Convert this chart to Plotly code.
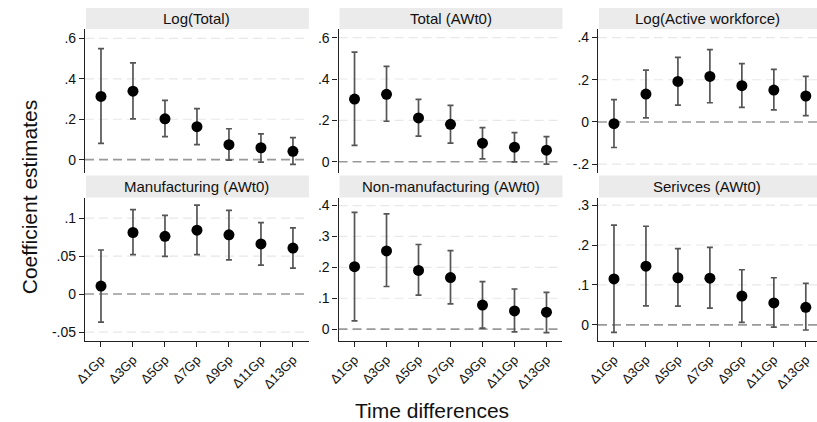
import plotly.graph_objects as go

W, H = 817, 422

categories = ["Δ1Gp", "Δ3Gp", "Δ5Gp", "Δ7Gp", "Δ9Gp", "Δ11Gp", "Δ13Gp"]

titles = ["Log(Total)", "Total (AWt0)", "Log(Active workforce)",
          "Manufacturing (AWt0)", "Non-manufacturing (AWt0)", "Serivces (AWt0)"]

log_total_coef = [0.313, 0.339, 0.202, 0.163, 0.074, 0.059, 0.041]
log_total_lo = [0.081, 0.202, 0.114, 0.074, -0.002, -0.012, -0.023]
log_total_hi = [0.550, 0.479, 0.293, 0.253, 0.153, 0.128, 0.109]

total_coef = [0.303, 0.326, 0.212, 0.181, 0.090, 0.071, 0.056]
total_lo = [0.079, 0.196, 0.124, 0.090, 0.014, 0.000, -0.011]
total_hi = [0.530, 0.461, 0.302, 0.273, 0.165, 0.141, 0.122]

log_aw_coef = [-0.008, 0.132, 0.192, 0.216, 0.172, 0.151, 0.123]
log_aw_lo = [-0.121, 0.019, 0.080, 0.091, 0.069, 0.057, 0.030]
log_aw_hi = [0.106, 0.246, 0.306, 0.343, 0.277, 0.249, 0.216]

manuf_coef = [0.0105, 0.081, 0.076, 0.084, 0.078, 0.066, 0.0605]
manuf_lo = [-0.037, 0.052, 0.0496, 0.052, 0.045, 0.038, 0.034]
manuf_hi = [0.058, 0.111, 0.1035, 0.117, 0.110, 0.094, 0.087]

nonmanuf_coef = [0.202, 0.253, 0.190, 0.167, 0.078, 0.059, 0.055]
nonmanuf_lo = [0.027, 0.138, 0.110, 0.082, 0.003, -0.009, -0.011]
nonmanuf_hi = [0.378, 0.373, 0.274, 0.254, 0.154, 0.130, 0.119]

serv_coef = [0.115, 0.147, 0.118, 0.117, 0.072, 0.055, 0.044]
serv_lo = [-0.019, 0.0475, 0.047, 0.042, 0.006, -0.006, -0.013]
serv_hi = [0.250, 0.247, 0.191, 0.194, 0.138, 0.118, 0.104]

series = [
    (log_total_coef, log_total_lo, log_total_hi),
    (total_coef, total_lo, total_hi),
    (log_aw_coef, log_aw_lo, log_aw_hi),
    (manuf_coef, manuf_lo, manuf_hi),
    (nonmanuf_coef, nonmanuf_lo, nonmanuf_hi),
    (serv_coef, serv_lo, serv_hi),
]

ytickvals = [[0, 0.2, 0.4, 0.6], [0, 0.2, 0.4, 0.6], [-0.2, 0, 0.2, 0.4],
             [-0.05, 0, 0.05, 0.1], [0, 0.1, 0.2, 0.3, 0.4], [0, 0.1, 0.2, 0.3]]
yticktext = [["0", ".2", ".4", ".6"], ["0", ".2", ".4", ".6"], ["-.2", "0", ".2", ".4"],
             ["-.05", "0", ".05", ".1"], ["0", ".1", ".2", ".3", ".4"], ["0", ".1", ".2", ".3"]]
yranges = [[-0.064, 0.647], [-0.052, 0.642], [-0.240, 0.441],
           [-0.062, 0.127], [-0.039, 0.426], [-0.041, 0.319]]

# layout geometry (pixels)
col_x = [(75, 302), (332, 559), (595, 817)]
xranges = [[-0.5, 6.5], [-0.5, 6.5], [-0.5, 6.35]]
row_y = [(28, 172), (197, 341)]
strip_y = [(7, 28), (175, 197)]

FONT = "Liberation Sans, Arial, sans-serif"
TXT = "#111111"

fig = go.Figure()
layout = dict(width=W, height=H, margin=dict(l=0, r=0, t=0, b=0),
              paper_bgcolor="white", plot_bgcolor="white", showlegend=False,
              font=dict(family=FONT, color=TXT))
shapes = []
annotations = []

for i in range(6):
    r, c = divmod(i, 3)
    n = i + 1
    xa = "xaxis" if n == 1 else f"xaxis{n}"
    ya = "yaxis" if n == 1 else f"yaxis{n}"
    xref = "x" if n == 1 else f"x{n}"
    yref = "y" if n == 1 else f"y{n}"
    x0, x1 = col_x[c]
    y0, y1 = row_y[r]
    coef, lo, hi = series[i]
    plus = [h - v for h, v in zip(hi, coef)]
    minus = [v - l for v, l in zip(coef, lo)]
    fig.add_trace(go.Scatter(
        x=categories, y=coef, mode="markers", xaxis=xref, yaxis=yref,
        marker=dict(color="black", size=11),
        error_y=dict(type="data", symmetric=False, array=plus, arrayminus=minus,
                     color="#555555", thickness=1.7, width=3),
    ))
    bottom = (r == 1)
    layout[xa] = dict(
        domain=[x0 / W, x1 / W], anchor=yref, type="category",
        categoryorder="array", categoryarray=categories, range=xranges[c],
        showgrid=False, zeroline=False,
        showline=bottom, linecolor="#222222", linewidth=1.2,
        ticks="outside" if bottom else "", ticklen=5, tickwidth=1.2, tickcolor="#222222",
        showticklabels=bottom, tickangle=-45,
        tickfont=dict(family=FONT, size=13, color=TXT),
    )
    layout[ya] = dict(
        domain=[1 - y1 / H, 1 - y0 / H], anchor=xref, range=yranges[i],
        tickvals=ytickvals[i], ticktext=yticktext[i],
        showgrid=False, zeroline=False, showline=True, linecolor="#222222", linewidth=1.2,
        ticks="outside", ticklen=5, tickwidth=1.2, tickcolor="#222222",
        tickfont=dict(family=FONT, size=14, color=TXT),
    )
    # grid lines at non-zero ticks
    for tv in ytickvals[i]:
        if tv == 0:
            continue
        shapes.append(dict(type="line", xref=f"{xref} domain", yref=yref,
                           x0=0, x1=1, y0=tv, y1=tv,
                           line=dict(color="#e8e8e8", width=1.2, dash="9px,5px"), layer="below"))
    # zero reference line
    shapes.append(dict(type="line", xref=f"{xref} domain", yref=yref,
                       x0=0, x1=1, y0=0, y1=0,
                       line=dict(color="#999999", width=1.6, dash="9px,5px"), layer="below"))
    # strip
    sy0, sy1 = strip_y[r]
    shapes.append(dict(type="rect", xref="paper", yref="paper",
                       x0=(x0 + 1) / W, x1=x1 / W, y0=1 - sy1 / H, y1=1 - sy0 / H,
                       fillcolor="#ebebeb", line=dict(width=0), layer="below"))
    annotations.append(dict(text=titles[i], xref="paper", yref="paper",
                            x=(x0 + min(x1, x0 + 227)) / 2 / W, y=1 - (sy0 + sy1) / 2 / H,
                            xanchor="center", yanchor="middle", showarrow=False,
                            font=dict(family=FONT, size=15, color=TXT)))

annotations.append(dict(text="Coefficient estimates", xref="paper", yref="paper",
                        x=19 / W, y=1 - 196 / H, textangle=-90, showarrow=False,
                        xanchor="center", yanchor="middle",
                        font=dict(family=FONT, size=21, color=TXT)))
annotations.append(dict(text="Time differences", xref="paper", yref="paper",
                        x=427 / W, y=1 - 410 / H, showarrow=False,
                        xanchor="center", yanchor="middle",
                        font=dict(family=FONT, size=21, color=TXT)))

layout["shapes"] = shapes
layout["annotations"] = annotations
fig.update_layout(**layout)
fig.write_html("out.html")
